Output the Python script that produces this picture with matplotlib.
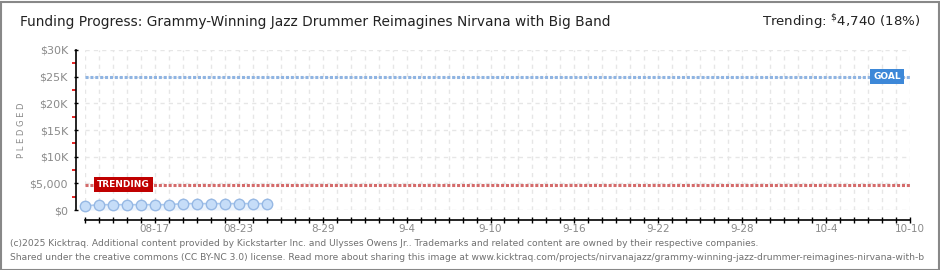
import numpy as np
import pandas as pd
import matplotlib
matplotlib.use('Agg')
import matplotlib.pyplot as plt
import matplotlib.dates as mdates
import matplotlib.transforms as mtransforms
from matplotlib.ticker import FixedLocator, FixedFormatter
from matplotlib.patches import Rectangle

# ---- data ----
title = "Funding Progress: Grammy-Winning Jazz Drummer Reimagines Nirvana with Big Band"
pledgeDates = pd.date_range('2025-08-12', '2025-08-25', freq='D')
pledged = [750, 1000, 1000, 1000, 1000, 1000, 1000, 1200, 1200, 1200, 1200, 1200, 1200, 1200]
goal = 25000
trending = 4740
trendingText = r"Trending: $^{\$}$4,740 (18%)"
axisDays = pd.date_range('2025-08-12', '2025-10-10', freq='D')
labelDates = pd.date_range('2025-08-17', '2025-10-10', freq='6D')
labelTexts = ['08-17', '08-23', '8-29', '9-4', '9-10', '9-16', '9-22', '9-28', '10-4', '10-10']
yTicks = [0, 5000, 10000, 15000, 20000, 25000, 30000]
yTickLabels = ['$0', '$5,000', '$10K', '$15K', '$20K', '$25K', '$30K']
yMinor = [2500, 7500, 12500, 17500, 22500, 27500]
footer1 = ("(c)2025 Kicktraq. Additional content provided by Kickstarter Inc. and Ulysses Owens Jr.. "
           "Trademarks and related content are owned by their respective companies.")
footer2 = ("Shared under the creative commons (CC BY-NC 3.0) license. Read more about sharing this image at "
           "www.kicktraq.com/projects/nirvanajazz/grammy-winning-jazz-drummer-reimagines-nirvana-with-b")

W, H = 940, 270
GRAY = '#8a8a8a'
DARK = '#222222'

fig = plt.figure(figsize=(W / 100, H / 100), dpi=100)
fig.patch.set_facecolor('white')
ax = fig.add_axes([85 / W, 1 - 210 / H, 825 / W, 160 / H])

xnum = mdates.date2num(axisDays)
ax.set_xlim(xnum[0], xnum[-1])
ax.set_ylim(0, 30000)

# grid
for xd in xnum:
    ax.axvline(xd, color='#e6e6e6', lw=1, ls=(0, (3, 3)), zorder=0)
for yv in yTicks:
    ax.axhline(yv, color='#e6e6e6', lw=1, ls=(0, (3, 3)), zorder=0)

# goal + trending lines
ax.axhline(goal, color='#8fb4e2', lw=2.2, ls=(0, (1, 0.6)), zorder=2)
ax.axhline(trending, color='#d46b6b', lw=2.2, ls=(0, (1, 0.6)), zorder=2)

# pledged series
px = mdates.date2num(pledgeDates)
ax.fill_between(px, pledged, 0, color='#ebf3fc', zorder=1, lw=0)
ax.plot(px, pledged, color='#a9c8ee', lw=1.2, marker='o', ms=7.5,
        mfc='#c6ddf8', mec='#96b8e4', mew=1, zorder=3, clip_on=False)

# label boxes
bt = mtransforms.blended_transform_factory(ax.transAxes, ax.transData)
ax.text((97 - 85) / 825, trending, 'TRENDING', transform=bt, ha='left', va='center',
        color='white', fontsize=6.5, fontweight='bold', zorder=4,
        bbox=dict(boxstyle='square,pad=0.35', fc='#c00000', ec='none'))
ax.text((887 - 85) / 825, goal, 'GOAL', transform=bt, ha='center', va='center',
        color='white', fontsize=6.5, fontweight='bold', zorder=4,
        bbox=dict(boxstyle='square,pad=0.35', fc='#3d88d8', ec='none'))

# axes styling
for s in ['top', 'right']:
    ax.spines[s].set_visible(False)
ax.spines['left'].set_position(('outward', 6.5))
ax.spines['bottom'].set_position(('outward', 7.2))
ax.spines['left'].set_color('black')
ax.spines['bottom'].set_color('black')
ax.spines['left'].set_linewidth(1.2)
ax.spines['bottom'].set_linewidth(1.2)

ax.xaxis.set_major_locator(FixedLocator(xnum))
lbl = {mdates.date2num(d): t for d, t in zip(labelDates, labelTexts)}
ax.xaxis.set_major_formatter(FixedFormatter([lbl.get(x, '') for x in xnum]))
ax.tick_params(axis='x', direction='inout', length=4, width=1, colors='black',
               labelcolor=GRAY, labelsize=7.5, pad=1)

ax.yaxis.set_major_locator(FixedLocator(yTicks))
ax.yaxis.set_major_formatter(FixedFormatter(yTickLabels))
ax.yaxis.set_minor_locator(FixedLocator(yMinor))
ax.tick_params(axis='y', which='major', direction='inout', length=3.5, width=1,
               colors='black', labelcolor=GRAY, labelsize=8, pad=4)
ax.tick_params(axis='y', which='minor', direction='out', length=3, width=1.2, colors='#e00000')

fig.text(22 / W, 1 - 130 / H, 'P L E D G E D', rotation=90, ha='center', va='center',
         fontsize=6, color=GRAY)

# title and trending header
fig.text(20 / W, 1 - 22 / H, title, ha='left', va='center', fontsize=9.9, color=DARK)
fig.text(920 / W, 1 - 22 / H, trendingText, ha='right', va='center', fontsize=9.6, color=DARK)

# footer
fig.text(10 / W, 1 - 243 / H, footer1, ha='left', va='center', fontsize=6.6, color='#707070')
fig.text(10 / W, 1 - 257 / H, footer2, ha='left', va='center', fontsize=6.6, color='#707070')

# frame
fig.patches.append(Rectangle((0.5 / W, 0.5 / H), 1 - 2 / W, 1 - 2 / H, transform=fig.transFigure,
                             fill=False, ec='#888888', lw=1.5))

fig.savefig('out.png', dpi=100)
